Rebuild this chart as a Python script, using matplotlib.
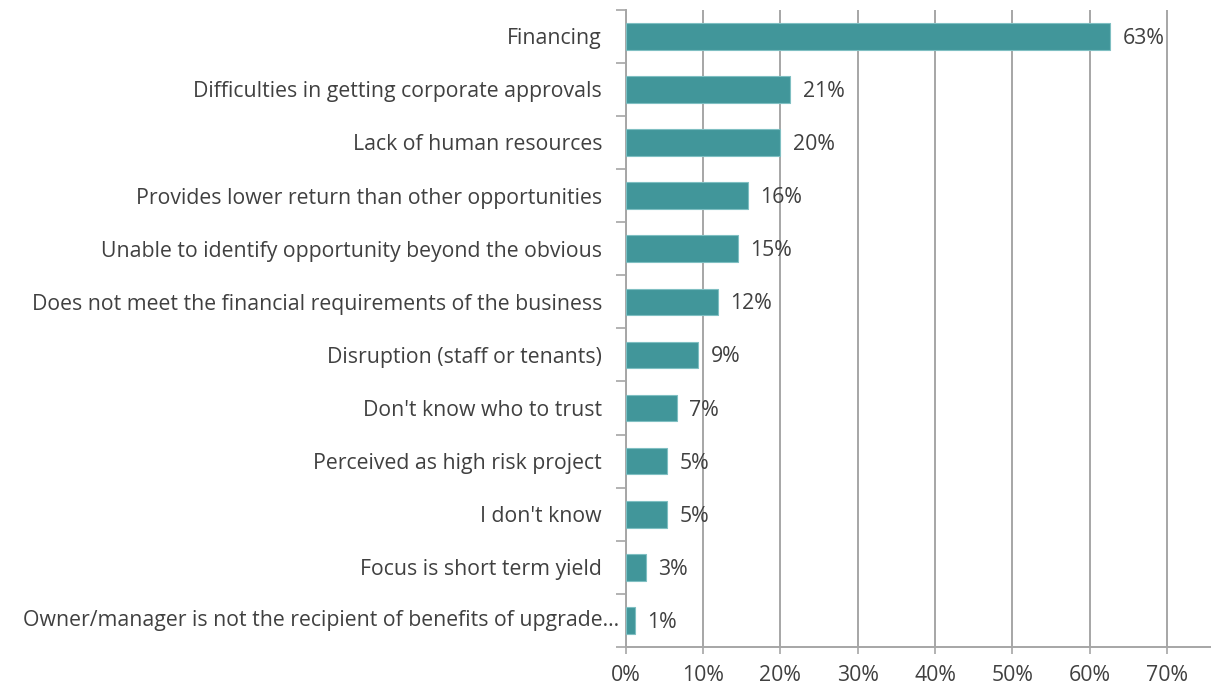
import matplotlib as mpl
import matplotlib.pyplot as plt
from matplotlib.ticker import FixedLocator, PercentFormatter

# ===== data =====
categories = [
    "Financing",
    "Difficulties in getting corporate approvals",
    "Lack of human resources",
    "Provides lower return than other opportunities",
    "Unable to identify opportunity beyond the obvious",
    "Does not meet the financial requirements of the business",
    "Disruption (staff or tenants)",
    "Don't know who to trust",
    "Perceived as high risk project",
    "I don't know",
    "Focus is short term yield",
    "Owner/manager is not the recipient of benefits of upgrade...",
]
values = [0.627, 0.213, 0.200, 0.158, 0.145, 0.119, 0.094, 0.066, 0.053, 0.053, 0.026, 0.012]
value_labels = ["63%", "21%", "20%", "16%", "15%", "12%", "9%", "7%", "5%", "5%", "3%", "1%"]
xticks = [0, 0.1, 0.2, 0.3, 0.4, 0.5, 0.6, 0.7]

# ===== style =====
mpl.rcParams['font.family'] = ['Open Sans', 'DejaVu Sans']
text_color = "#404040"
bar_color = "#41969A"
grid_color = "#A6A6A6"
fs = 15.3

fig = plt.figure(figsize=(12.11, 6.92), dpi=100)
ax = fig.add_axes([0.5167, 0.065, 0.4833, 0.921])

n = len(categories)
ypos = list(range(n))
ax.barh(ypos, values, height=0.5, color=bar_color, edgecolor="#7FBFC2",
        linewidth=0.8, zorder=3)

ax.set_ylim(n - 0.5, -0.5)
ax.set_xlim(0, 0.757)

# category labels (no tick mark), boundary ticks as minor
# 最後のラベルは長いので軸に近づけて別に描く（Excel の省略表示に合わせる）
ax.set_yticks(ypos)
ax.set_yticklabels(categories[:-1] + [""], fontsize=fs, color=text_color)
ax.tick_params(axis='y', which='major', length=0, pad=17)
ax.annotate(categories[-1], xy=(0, ypos[-1]), xycoords=("axes fraction", "data"),
            xytext=(-5, 0), textcoords="offset points",
            ha="right", va="center", fontsize=fs, color=text_color)
ax.yaxis.set_minor_locator(FixedLocator([i - 0.5 for i in range(n + 1)]))
ax.tick_params(axis='y', which='minor', length=7, width=1.2, color=grid_color)

# x axis
ax.set_xticks(xticks)
ax.xaxis.set_major_formatter(PercentFormatter(1.0, decimals=0))
ax.tick_params(axis='x', which='major', length=5, width=1.2, color=grid_color,
               labelsize=fs, labelcolor=text_color, pad=8)
ax.grid(axis='x', color=grid_color, linewidth=1.4, zorder=0)

for side in ("top", "right"):
    ax.spines[side].set_visible(False)
for side in ("left", "bottom"):
    ax.spines[side].set_color(grid_color)
    ax.spines[side].set_linewidth(1.4)

# value labels
for y, v, lab in zip(ypos, values, value_labels):
    ax.annotate(lab, xy=(v, y), xytext=(9, -1.5), textcoords="offset points",
                va="center", ha="left", fontsize=fs, color=text_color)

fig.savefig("out.png", dpi=100)
